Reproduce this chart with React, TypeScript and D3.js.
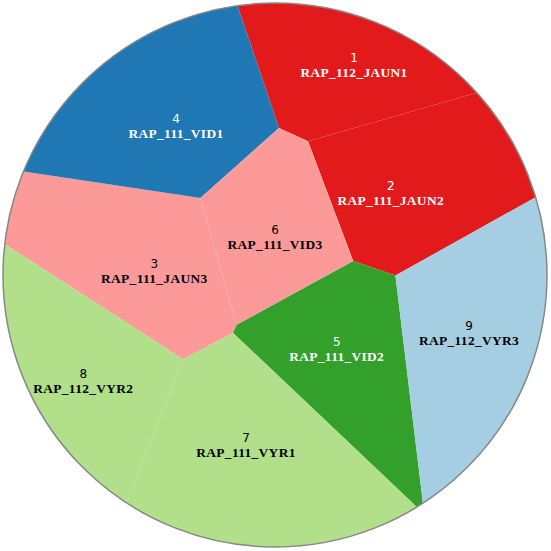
import React from "react";
import * as d3 from "d3";

// cell ids, names and fill colours
const ids = ["1", "2", "3", "4", "5", "6", "7", "8", "9"];
const names = [
  "RAP_112_JAUN1",
  "RAP_111_JAUN2",
  "RAP_111_JAUN3",
  "RAP_111_VID1",
  "RAP_111_VID2",
  "RAP_111_VID3",
  "RAP_111_VYR1",
  "RAP_112_VYR2",
  "RAP_112_VYR3",
];
const colors = [
  "#e31a1c",
  "#e31a1c",
  "#fb9a99",
  "#1f78b4",
  "#33a02c",
  "#fb9a99",
  "#b2df8a",
  "#b2df8a",
  "#a6cee3",
];
const textColors = ["#fff", "#fff", "#000", "#fff", "#fff", "#000", "#000", "#000", "#000"];

// voronoi treemap sites (unit disk, y down) and their power weights
const siteX = [0.2904, 0.4254, -0.4438, -0.364, 0.2268, 0.0, -0.1066, -0.7048, 0.7132];
const siteY = [-0.7923, -0.3235, -0.0368, -0.5699, 0.2511, -0.1629, 0.6029, 0.3676, 0.1923];
const weights = [0.000197, 0.001964, 0.003862, 0.005182, 0.004517, 0.004055, 0.012242, 0.010486, 0.00517];

const SIZE = 551;
const CX = 275;
const CY = 275;
const R = 272;

// keep the part of poly where a*x + b*y <= c
function clipHalfPlane(poly: [number, number][], a: number, b: number, c: number) {
  const out: [number, number][] = [];
  for (let i = 0; i < poly.length; i++) {
    const p = poly[i];
    const q = poly[(i + 1) % poly.length];
    const dp = a * p[0] + b * p[1] - c;
    const dq = a * q[0] + b * q[1] - c;
    if (dp <= 0) out.push(p);
    if ((dp < 0 && dq > 0) || (dp > 0 && dq < 0)) {
      const t = dp / (dp - dq);
      out.push([p[0] + t * (q[0] - p[0]), p[1] + t * (q[1] - p[1])]);
    }
  }
  return out;
}

// power diagram of the sites, clipped to the unit disk
function powerCells() {
  const disk: [number, number][] = d3.range(720).map((i) => {
    const ang = (i / 720) * 2 * Math.PI;
    return [Math.cos(ang), Math.sin(ang)];
  });
  return ids.map((_, i) => {
    let poly = disk;
    for (let j = 0; j < ids.length; j++) {
      if (j === i) continue;
      const a = 2 * (siteX[j] - siteX[i]);
      const b = 2 * (siteY[j] - siteY[i]);
      const c =
        siteX[j] * siteX[j] + siteY[j] * siteY[j] -
        siteX[i] * siteX[i] - siteY[i] * siteY[i] -
        weights[j] + weights[i];
      poly = clipHalfPlane(poly, a, b, c);
    }
    return poly;
  });
}

export default function App() {
  const x = d3.scaleLinear().domain([-1, 1]).range([CX - R, CX + R]);
  const y = d3.scaleLinear().domain([-1, 1]).range([CY - R, CY + R]);

  const cells = powerCells().map((poly) => poly.map((p) => [x(p[0]), y(p[1])] as [number, number]));
  const line = d3.line().curve(d3.curveLinearClosed);

  return (
    <svg
      width={SIZE}
      height={SIZE}
      style={{ position: "absolute", left: 0, top: 0, background: "#fff" }}
    >
      <g>
        {cells.map((poly, i) => (
          <path key={"c" + i} d={line(poly) || ""} fill={colors[i]} stroke="none" />
        ))}
      </g>
      <circle cx={CX} cy={CY} r={R} fill="none" stroke="#888" strokeWidth={1.5} />
      <g>
        {ids.map((id, i) => (
          <g
            key={"t" + i}
            transform={`translate(${x(siteX[i])},${y(siteY[i])})`}
            fill={textColors[i]}
            textAnchor="middle"
          >
            <text y={3} fontFamily="DejaVu Sans, sans-serif" fontSize={12}>
              {id}
            </text>
            <text y={18} fontFamily="Liberation Serif, serif" fontWeight="bold" fontSize={13.4} letterSpacing={0.35}>
              {names[i]}
            </text>
          </g>
        ))}
      </g>
    </svg>
  );
}
